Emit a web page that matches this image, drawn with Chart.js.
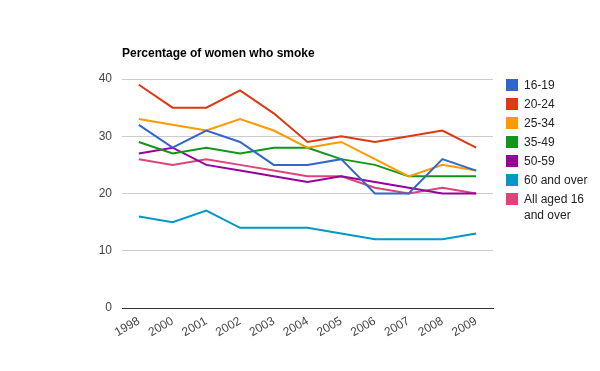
<!DOCTYPE html>
<html>
<head>
<meta charset="utf-8">
<script src="https://cdn.jsdelivr.net/npm/chart.js@4"></script>
<style>
  body { margin: 0; background: #fff; font-family: "Liberation Sans", Arial, sans-serif; }
  #wrap { position: relative; width: 600px; height: 371px; }
  #title { position: absolute; left: 122px; top: 46px; font-size: 12px; font-weight: bold; color: #000; }
  #legend { position: absolute; left: 506px; top: 77px; font-size: 12px; color: #222; }
  .item { display: flex; align-items: flex-start; margin-bottom: 3px; line-height: 16px; }
  .sw { width: 12px; height: 12px; margin-top: 2px; margin-right: 6px; flex: none; }
</style>
</head>
<body>
<div id="wrap">
  <canvas id="chart" width="600" height="371"></canvas>
  <div id="title">Percentage of women who smoke</div>
  <div id="legend"></div>
</div>
<script>
// Percentage of women who smoke, by age group
const years = ["1998", "2000", "2001", "2002", "2003", "2004", "2005", "2006", "2007", "2008", "2009"];

const age16to19 = [32, 28, 31, 29, 25, 25, 26, 20, 20, 26, 24];
const age20to24 = [39, 35, 35, 38, 34, 29, 30, 29, 30, 31, 28];
const age25to34 = [33, 32, 31, 33, 31, 28, 29, 26, 23, 25, 24];
const age35to49 = [29, 27, 28, 27, 28, 28, 26, 25, 23, 23, 23];
const age50to59 = [27, 28, 25, 24, 23, 22, 23, 22, 21, 20, 20];
const age60plus = [16, 15, 17, 14, 14, 14, 13, 12, 12, 12, 13];
const allAged16 = [26, 25, 26, 25, 24, 23, 23, 21, 20, 21, 20];

const seriesNames = ["16-19", "20-24", "25-34", "35-49", "50-59", "60 and over", "All aged 16 and over"];
const seriesData = [age16to19, age20to24, age25to34, age35to49, age50to59, age60plus, allAged16];
const colors = ["#3366cc", "#dc3912", "#ff9900", "#109618", "#990099", "#0099c6", "#dd4477"];

const datasets = seriesNames.map((name, i) => ({
  label: name,
  data: seriesData[i],
  borderColor: colors[i],
  backgroundColor: colors[i],
  borderWidth: 2,
  pointRadius: 0,
  fill: false,
  tension: 0,
}));

new Chart(document.getElementById("chart"), {
  type: "line",
  data: { labels: years, datasets },
  options: {
    responsive: false,
    animation: false,
    layout: { padding: { top: 79, right: 107, left: 0, bottom: 0 } },
    scales: {
      x: {
        offset: true,
        grid: { display: false, drawTicks: false },
        border: { color: "#333" },
        ticks: {
          autoSkip: false,
          color: "#444",
          font: { family: "Liberation Sans", size: 12 },
          minRotation: 30,
          maxRotation: 30,
          padding: 6,
        },
        afterFit: s => { s.height = 63; },
      },
      y: {
        min: 0,
        max: 40,
        grid: {
          drawTicks: false,
          color: c => c.tick.value === 0 ? "#333" : "#ccc",
        },
        border: { display: false },
        ticks: {
          stepSize: 10,
          color: "#444",
          font: { family: "Liberation Sans", size: 12 },
          padding: 10,
        },
        afterFit: s => { s.width = 122; },
      },
    },
    plugins: {
      legend: { display: false },
      tooltip: { enabled: false },
    },
  },
});

// HTML legend so the last label can wrap like the original
const legend = document.getElementById("legend");
seriesNames.forEach((name, i) => {
  const item = document.createElement("div");
  item.className = "item";
  const sw = document.createElement("span");
  sw.className = "sw";
  sw.style.background = colors[i];
  const txt = document.createElement("span");
  txt.textContent = name;
  if (i === seriesNames.length - 1) txt.style.width = "70px";
  item.appendChild(sw);
  item.appendChild(txt);
  legend.appendChild(item);
});
</script>
</body>
</html>
